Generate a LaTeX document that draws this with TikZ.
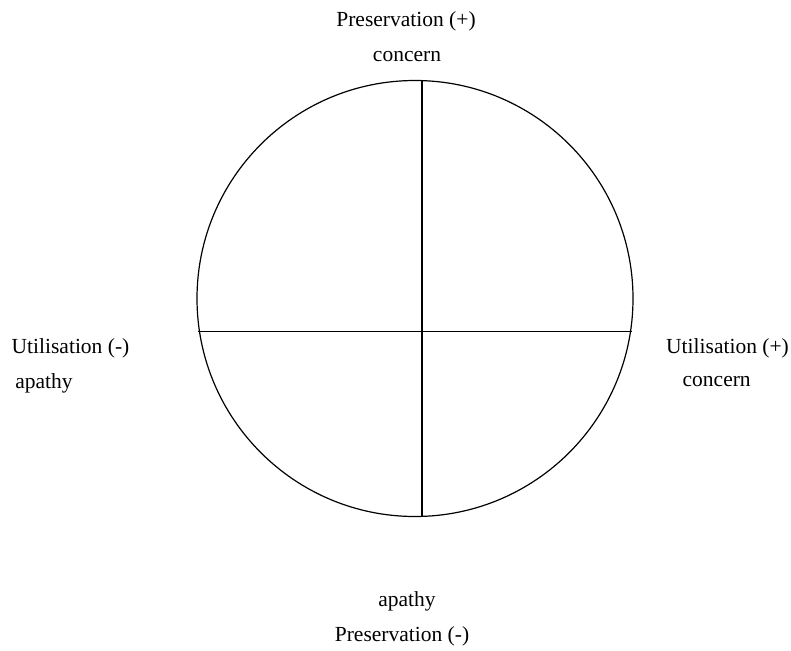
\documentclass[tikz,border=0pt]{standalone}
\usepackage{fontspec}
\setmainfont{Liberation Serif}
\begin{document}
\begin{tikzpicture}[x=1pt,y=-1pt,
  lbl/.style={inner sep=0pt,anchor=base,font=\fontsize{21.5}{26}\selectfont},
  ln/.style={line width=1.2pt,black}]
\useasboundingbox (0,0) rectangle (791,650);
\fill[white] (0,0) rectangle (791,650);
\node[circle,draw,ln,minimum size=436pt,inner sep=0pt] (c) at (415,298.5) {};
\coordinate (top) at (422,80.7);
\coordinate (bot) at (422,516);
\coordinate (lft) at (197.5,331.7);
\coordinate (rgt) at (632.3,331.7);
\draw[ln] (top) -- (bot);
\draw[ln] (lft) -- (rgt);
\node[lbl] (pp) at (406,26.7) {Preservation (+)};
\node[lbl] (pc) at (407,62) {concern};
\node[lbl] (ul) at (70.5,353.3) {Utilisation (-)};
\node[lbl] (ua) at (44,388) {apathy};
\node[lbl] (ur) at (727.5,353.3) {Utilisation (+)};
\node[lbl] (uc) at (716.7,386) {concern};
\node[lbl] (pa) at (407,606.7) {apathy};
\node[lbl] (pm) at (402,641.7) {Preservation (-)};
\end{tikzpicture}
\end{document}
